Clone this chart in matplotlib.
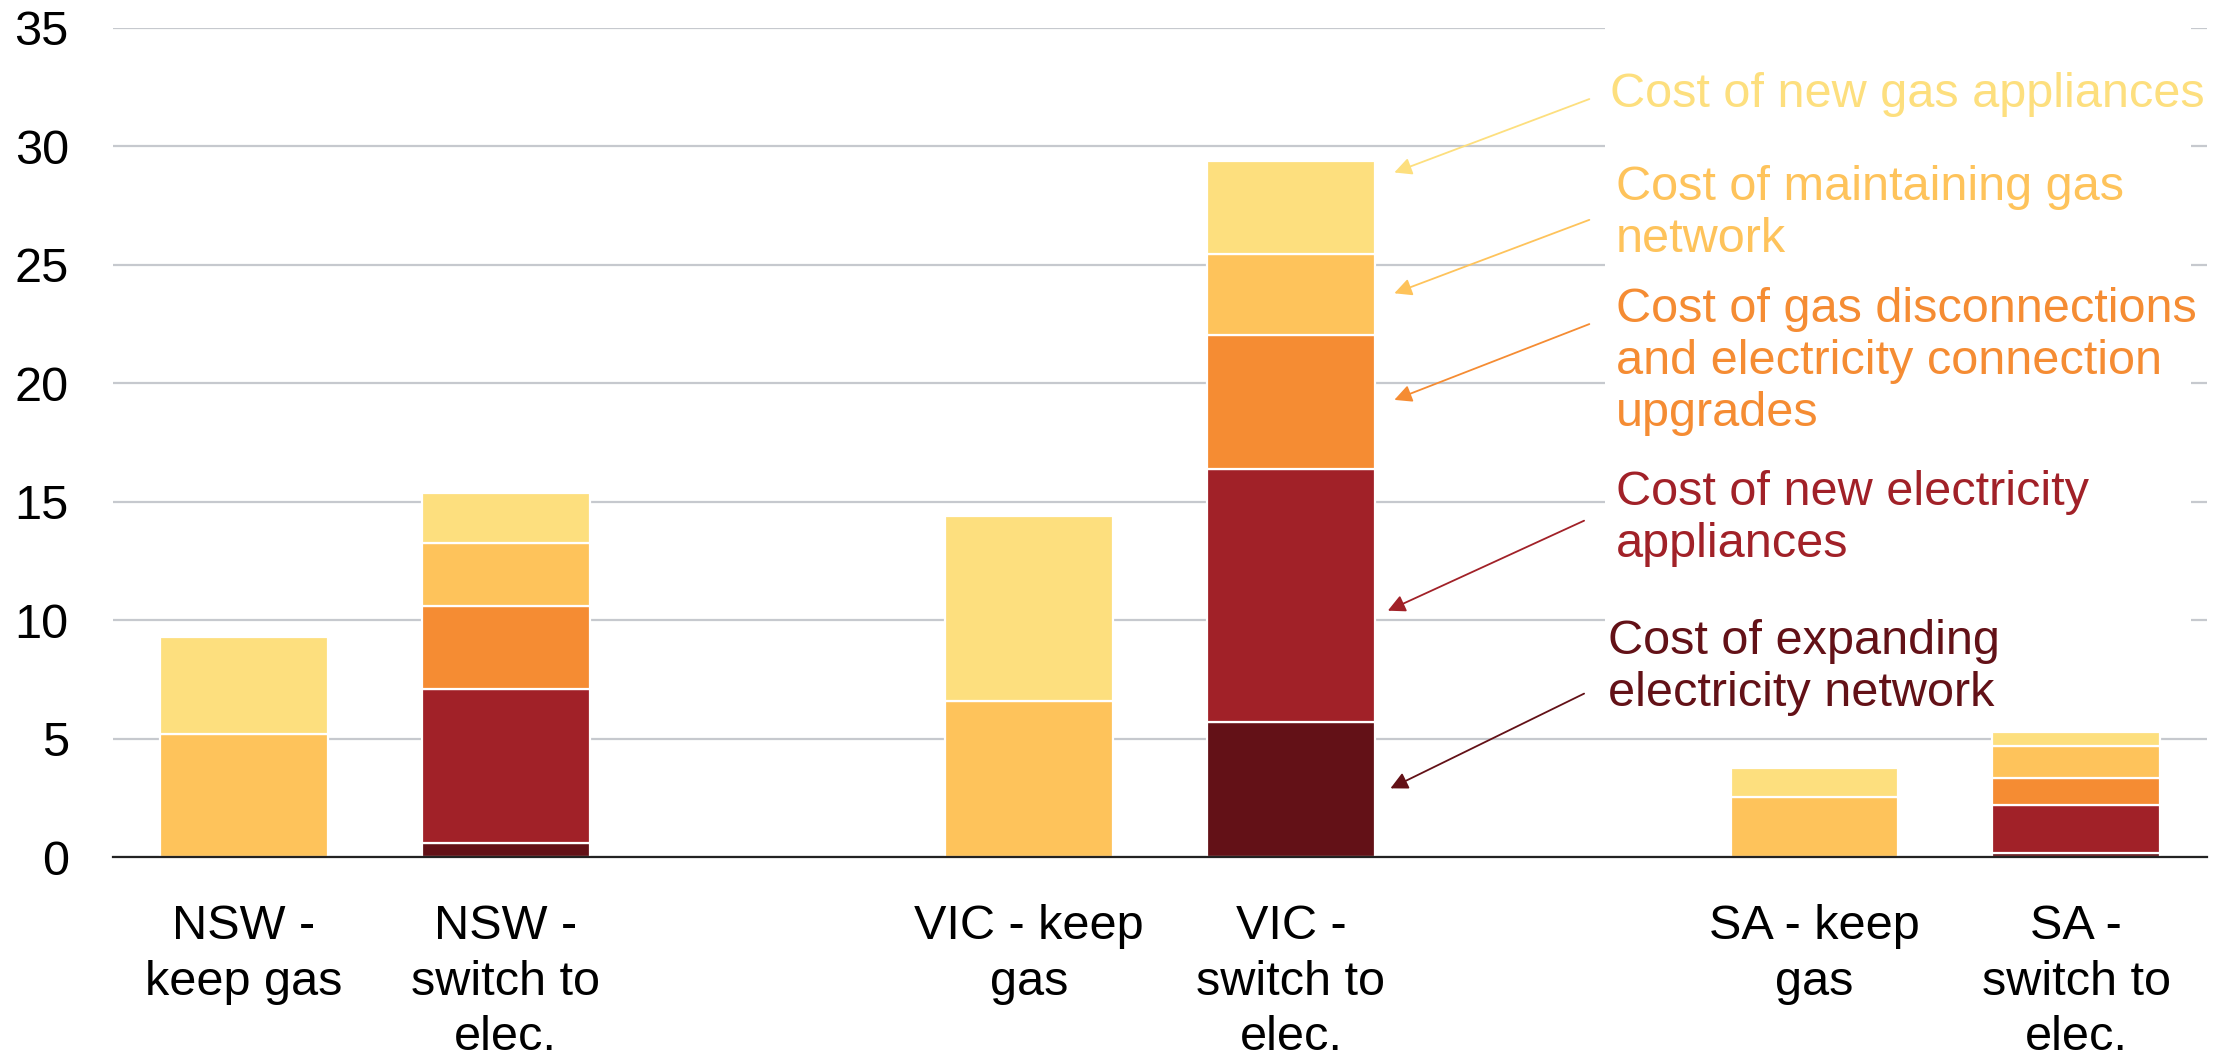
import matplotlib
matplotlib.use("Agg")
import matplotlib.pyplot as plt
from matplotlib.patches import Rectangle

# Scenario categories and their slots on the x axis (gaps between states)
categories = ["NSW -\nkeep gas", "NSW -\nswitch to\nelec.", "VIC - keep\ngas",
              "VIC -\nswitch to\nelec.", "SA - keep\ngas", "SA -\nswitch to\nelec."]
positions = [0, 1, 3, 4, 6, 7]

# Cost components ($b), stacked bottom to top
expanding_network = [0.0, 0.6, 0.0, 5.7, 0.0, 0.15]
new_elec_appliances = [0.0, 6.5, 0.0, 10.7, 0.0, 2.05]
disconnections = [0.0, 3.5, 0.0, 5.65, 0.0, 1.12]
maintaining_gas = [5.2, 2.65, 6.6, 3.4, 2.55, 1.35]
new_gas_appliances = [4.1, 2.1, 7.8, 3.95, 1.2, 0.6]

series_labels = [
    "Cost of expanding\nelectricity network",
    "Cost of new electricity\nappliances",
    "Cost of gas disconnections\nand electricity connection\nupgrades",
    "Cost of maintaining gas\nnetwork",
    "Cost of new gas appliances",
]
y_ticks = [0, 5, 10, 15, 20, 25, 30, 35]

colors = ["#631117", "#A12128", "#F58C33", "#FEC35B", "#FDDF7E"]
series = [expanding_network, new_elec_appliances, disconnections,
          maintaining_gas, new_gas_appliances]

FONT = ["Liberation Sans Narrow", "Liberation Sans", "DejaVu Sans"]
plt.rcParams["font.family"] = FONT
FS = 35

fig = plt.figure(figsize=(22.19, 10.64), dpi=100)
ax = fig.add_axes([0.051, 0.1945, 0.9436, 0.7792])

bottoms = [0.0] * len(positions)
for vals, col in zip(series, colors):
    ax.bar(positions, vals, width=0.64, bottom=bottoms, color=col,
           edgecolor="white", linewidth=1.6, zorder=2)
    bottoms = [b + v for b, v in zip(bottoms, vals)]

ax.set_xlim(-0.5, 7.5)
ax.set_ylim(0, 35)
ax.set_yticks(y_ticks)
ax.set_yticklabels([str(t) for t in y_ticks], fontsize=FS)
ax.set_xticks(positions)
ax.set_xticklabels(categories, fontsize=FS, linespacing=1.3)
ax.tick_params(axis="y", length=0, pad=32)
ax.tick_params(axis="x", length=0, pad=34)

ax.set_axisbelow(True)
ax.yaxis.grid(True, color="#C6C9CE", linewidth=1.6)
for side in ("left", "right", "top"):
    ax.spines[side].set_visible(False)
ax.spines["bottom"].set_color("#222222")
ax.spines["bottom"].set_linewidth(1.6)
ax.spines["bottom"].set_zorder(3)

# White panel behind the annotation labels
ax.add_patch(Rectangle((5.2, 9.6), 2.24, 26.0, facecolor="white",
                       edgecolor="none", zorder=1, clip_on=False))

# Labels (top component first) with arrows pointing into the VIC switch bar
label_specs = [
    # text, colour, text anchor (x, y), arrow tail, arrow head
    (series_labels[4], colors[4], (5.22, 32.2), (5.14, 32.0), (4.395, 28.9)),
    (series_labels[3], colors[3], (5.24, 27.15), (5.14, 26.9), (4.395, 23.8)),
    (series_labels[2], colors[2], (5.24, 20.9), (5.14, 22.5), (4.395, 19.3)),
    (series_labels[1], colors[1], (5.24, 14.3), (5.12, 14.2), (4.37, 10.4)),
    (series_labels[0], colors[0], (5.21, 8.0), (5.12, 6.9), (4.38, 2.9)),
]
for text, col, txy, tail, head in label_specs:
    ax.text(txy[0], txy[1], text, color=col, fontsize=FS, ha="left",
            va="center", linespacing=1.2, zorder=4)
    ax.annotate("", xy=head, xytext=tail,
                arrowprops=dict(arrowstyle="-|>", color=col, lw=1.3,
                                mutation_scale=26, shrinkA=0, shrinkB=0),
                zorder=4)

fig.savefig("out.png", dpi=100, facecolor="white")
